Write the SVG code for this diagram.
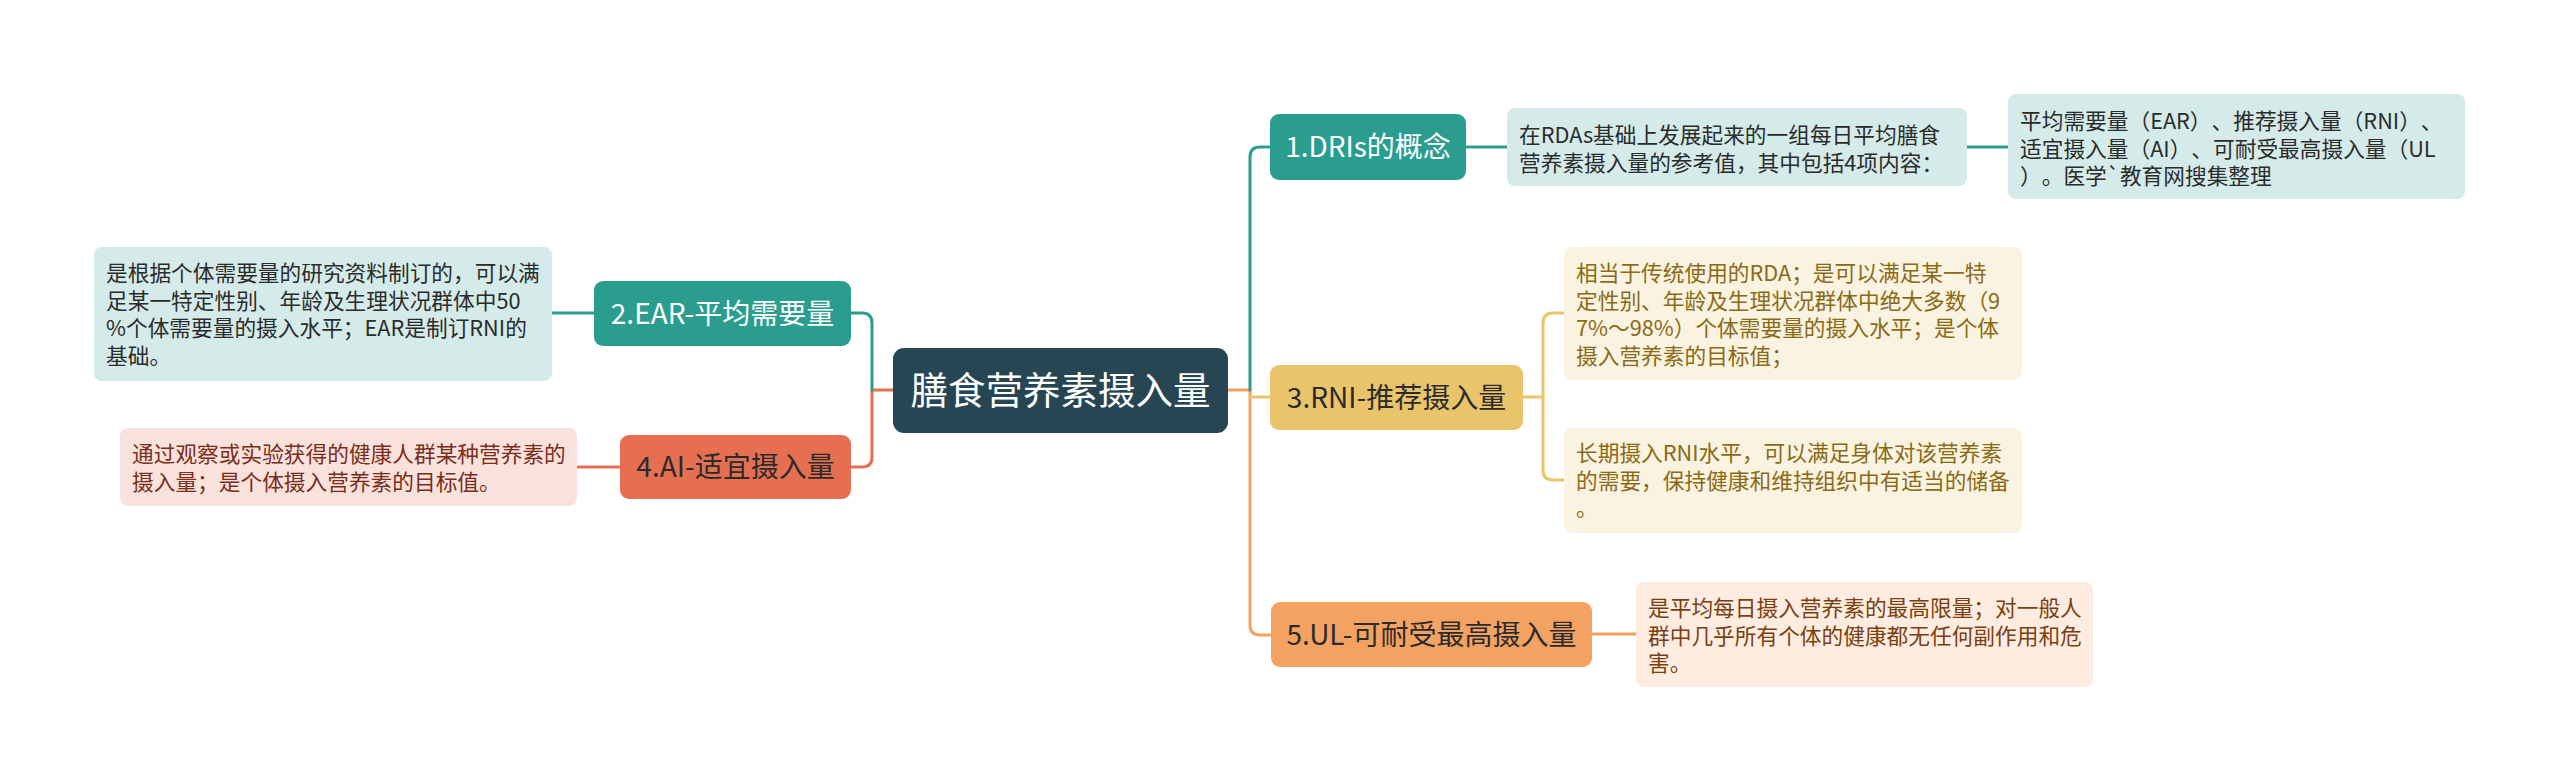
<svg xmlns="http://www.w3.org/2000/svg" width="2560" height="781" viewBox="0 0 2560 781">
<style>
text{font-family:"Noto Sans CJK SC","Noto Sans",sans-serif;text-spacing-trim:space-all;}
.t{font-size:28px;text-anchor:middle;}
.d{font-size:21.7px;}
.root{font-size:37.5px;fill:#ffffff;text-anchor:middle;}
.w{fill:#ffffff;}
.k{fill:#2b2b2b;}
.con{fill:none;stroke-width:3;stroke-linecap:round;stroke-linejoin:round;}
.teal{stroke:#2a9d8f;}
.yel{stroke:#e9c46a;}
.ora{stroke:#f4a261;}
.red{stroke:#e76f51;}
</style>
<rect width="2560" height="781" fill="#ffffff"/>
<g id="connectors">
  <path class="con ora" d="M1228,390 H1250 V625 Q1250,635 1260,635 H1271"/>
  <path class="con teal" d="M1250,390 V157 Q1250,147 1260,147 H1270"/>
  <path class="con yel" d="M1250,397 H1270"/>
  <path class="con teal" d="M1466,147 H1507"/>
  <path class="con teal" d="M1967,147 H2008"/>
  <path class="con yel" d="M1523,397 H1543"/>
  <path class="con yel" d="M1564,313 H1553 Q1543,313 1543,323 V470 Q1543,480 1553,480 H1564"/>
  <path class="con ora" d="M1592,634 H1636"/>
  <path class="con red" d="M893,390 H872 V457 Q872,467 862,467 H851"/>
  <path class="con teal" d="M872,390 V323 Q872,313 862,313 H851"/>
  <path class="con teal" d="M594,313 H552"/>
  <path class="con red" d="M620,467 H577"/>
</g>
<g id="root">
  <rect x="893" y="348" width="335" height="85" rx="11" fill="#264653"/>
  <text class="root" x="1060.5" y="404">膳食营养素摄入量</text>
</g>
<g id="n1">
  <rect x="1270" y="114" width="196" height="66" rx="9" fill="#2a9d8f"/>
  <text class="t w" x="1368" y="157">1.DRIs的概念</text>
</g>
<g id="n1d">
  <rect x="1507" y="108" width="460" height="78" rx="8" fill="#d4ebe9"/>
  <text class="d k" x="1519" y="143">在RDAs基础上发展起来的一组每日平均膳食</text>
  <text class="d k" x="1519" y="170.5">营养素摄入量的参考值，其中包括4项内容：</text>
</g>
<g id="n1dd">
  <rect x="2008" y="94" width="457" height="105" rx="8" fill="#d4ebe9"/>
  <text class="d k" x="2020" y="129">平均需要量（EAR）、推荐摄入量（RNI）、</text>
  <text class="d k" x="2020" y="156.5">适宜摄入量（AI）、可耐受最高摄入量（UL</text>
  <text class="d k" x="2020" y="184">）。医学`教育网搜集整理</text>
</g>
<g id="n3">
  <rect x="1270" y="365" width="253" height="65" rx="9" fill="#e9c46a"/>
  <text class="t k" x="1396.5" y="407.5">3.RNI-推荐摄入量</text>
</g>
<g id="n3d1">
  <rect x="1564" y="247" width="458" height="133" rx="8" fill="#fbf3e1"/>
  <text class="d" fill="#8a6a14" x="1576" y="281">相当于传统使用的RDA；是可以满足某一特</text>
  <text class="d" fill="#8a6a14" x="1576" y="308.5">定性别、年龄及生理状况群体中绝大多数（9</text>
  <text class="d" fill="#8a6a14" x="1576" y="336">7%～98%）个体需要量的摄入水平；是个体</text>
  <text class="d" fill="#8a6a14" x="1576" y="363.5">摄入营养素的目标值；</text>
</g>
<g id="n3d2">
  <rect x="1564" y="428" width="458" height="105" rx="8" fill="#fbf3e1"/>
  <text class="d" fill="#8a6a14" x="1576" y="461">长期摄入RNI水平，可以满足身体对该营养素</text>
  <text class="d" fill="#8a6a14" x="1576" y="488.5">的需要，保持健康和维持组织中有适当的储备</text>
  <text class="d" fill="#8a6a14" x="1576" y="516">。</text>
</g>
<g id="n5">
  <rect x="1271" y="602" width="321" height="65" rx="9" fill="#f4a261"/>
  <text class="t k" x="1431.5" y="644.5">5.UL-可耐受最高摄入量</text>
</g>
<g id="n5d">
  <rect x="1636" y="582" width="457" height="105" rx="8" fill="#fdecdf"/>
  <text class="d" fill="#7a3f10" x="1648" y="616">是平均每日摄入营养素的最高限量；对一般人</text>
  <text class="d" fill="#7a3f10" x="1648" y="643.5">群中几乎所有个体的健康都无任何副作用和危</text>
  <text class="d" fill="#7a3f10" x="1648" y="671">害。</text>
</g>
<g id="n2">
  <rect x="594" y="281" width="257" height="65" rx="9" fill="#2a9d8f"/>
  <text class="t w" x="722.5" y="323.5">2.EAR-平均需要量</text>
</g>
<g id="n2d">
  <rect x="94" y="247" width="458" height="134" rx="8" fill="#d4ebe9"/>
  <text class="d k" x="106" y="281">是根据个体需要量的研究资料制订的，可以满</text>
  <text class="d k" x="106" y="308.5">足某一特定性别、年龄及生理状况群体中50</text>
  <text class="d k" x="106" y="336">%个体需要量的摄入水平；EAR是制订RNI的</text>
  <text class="d k" x="106" y="363.5">基础。</text>
</g>
<g id="n4">
  <rect x="620" y="435" width="231" height="64" rx="9" fill="#e76f51"/>
  <text class="t k" x="735.5" y="477">4.AI-适宜摄入量</text>
</g>
<g id="n4d">
  <rect x="120" y="428" width="457" height="78" rx="8" fill="#fae2dc"/>
  <text class="d" fill="#7b2d1b" x="132" y="462">通过观察或实验获得的健康人群某种营养素的</text>
  <text class="d" fill="#7b2d1b" x="132" y="489.5">摄入量；是个体摄入营养素的目标值。</text>
</g>
</svg>
